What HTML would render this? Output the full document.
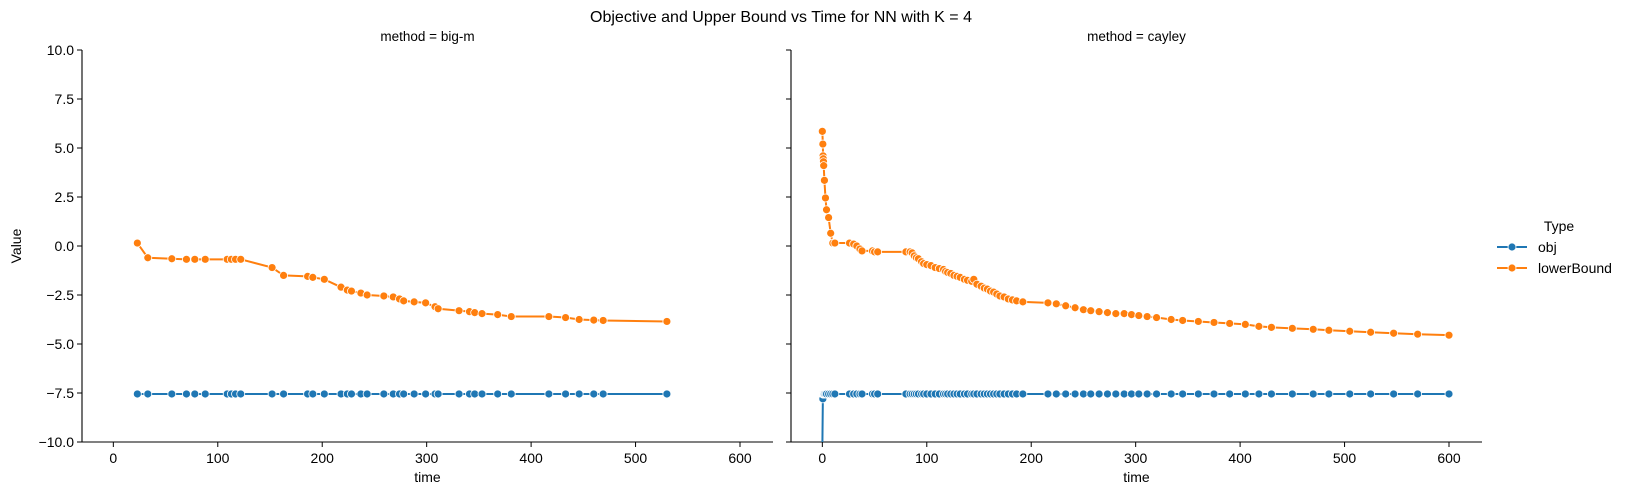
<!DOCTYPE html>
<html><head><meta charset="utf-8"><style>
html,body{margin:0;padding:0;background:#fff;overflow:hidden;width:1632px;height:495px;}
svg{display:block;}
svg text{font-family:"Liberation Sans","DejaVu Sans",sans-serif;fill:#000;}
</style></head><body>
<svg id="chart" width="1632" height="495" xmlns="http://www.w3.org/2000/svg">
<text x="781" y="22" font-size="16" text-anchor="middle">Objective and Upper Bound vs Time for NN with K = 4</text>
<g id="legend">
<text x="1559" y="231" font-size="14" text-anchor="middle">Type</text>
<g><line x1="1497" y1="247" x2="1527" y2="247" stroke="#1f77b4" stroke-width="2"/><circle cx="1512" cy="247" r="4" fill="#1f77b4" stroke="#fff" stroke-width="0.8"/><text x="1538" y="252" font-size="14">obj</text></g>
<g><line x1="1497" y1="268" x2="1527" y2="268" stroke="#ff7f0e" stroke-width="2"/><circle cx="1512" cy="268" r="4" fill="#ff7f0e" stroke="#fff" stroke-width="0.8"/><text x="1538" y="273" font-size="14">lowerBound</text></g>
</g>
</svg>
<script>
const yTicks=[10,7.5,5,2.5,0,-2.5,-5,-7.5,-10];
const yTickLabels=["10.0","7.5","5.0","2.5","0.0","\u22122.5","\u22125.0","\u22127.5","\u221210.0"];
const xTicks=[0,100,200,300,400,500,600];
const bigmTime=[23,33,56,70,78,88,109,113,117,122,152,163,186,191,202,218,224,228,237,243,259,268,274,278,288,299,308,311,331,341,346,353,368,381,417,433,446,460,469,530];
const bigmLB=[0.15,-0.6,-0.65,-0.68,-0.68,-0.68,-0.68,-0.68,-0.68,-0.68,-1.1,-1.5,-1.55,-1.6,-1.7,-2.1,-2.25,-2.3,-2.4,-2.5,-2.55,-2.6,-2.7,-2.8,-2.85,-2.9,-3.1,-3.2,-3.3,-3.35,-3.4,-3.45,-3.5,-3.6,-3.6,-3.65,-3.75,-3.78,-3.8,-3.85];
const bigmObj=[-7.55,-7.55,-7.55,-7.55,-7.55,-7.55,-7.55,-7.55,-7.55,-7.55,-7.55,-7.55,-7.55,-7.55,-7.55,-7.55,-7.55,-7.55,-7.55,-7.55,-7.55,-7.55,-7.55,-7.55,-7.55,-7.55,-7.55,-7.55,-7.55,-7.55,-7.55,-7.55,-7.55,-7.55,-7.55,-7.55,-7.55,-7.55,-7.55,-7.55];
const cayTime=[0,0.5,0.7,0.9,1.1,1.3,2,3,4,6,8,10,12,26,30,33,36,38,48,50,53,80,84,86,88,90,92,95,97,100,104,108,112,116,118,120,123,126,129,132,136,139,143,145,148,152,155,158,161,164,167,170,174,178,182,186,192,216,224,233,242,250,257,265,273,281,289,296,303,311,320,334,345,360,375,390,405,418,430,450,470,485,505,525,547,570,600];
const cayLB=[5.85,5.2,4.6,4.45,4.3,4.1,3.35,2.45,1.85,1.45,0.65,0.15,0.15,0.15,0.1,0.0,-0.15,-0.25,-0.25,-0.3,-0.3,-0.3,-0.3,-0.35,-0.5,-0.6,-0.65,-0.8,-0.9,-0.95,-1.0,-1.1,-1.15,-1.2,-1.3,-1.35,-1.4,-1.5,-1.55,-1.6,-1.7,-1.75,-1.8,-1.7,-1.95,-2.05,-2.15,-2.2,-2.3,-2.35,-2.45,-2.55,-2.6,-2.7,-2.75,-2.8,-2.85,-2.9,-2.95,-3.05,-3.15,-3.25,-3.3,-3.35,-3.4,-3.45,-3.45,-3.5,-3.55,-3.6,-3.65,-3.75,-3.8,-3.85,-3.9,-3.95,-4.0,-4.1,-4.15,-4.2,-4.25,-4.3,-4.35,-4.4,-4.45,-4.5,-4.55];
const cayObj=[-10.4,-7.8,-7.55,-7.55,-7.55,-7.55,-7.55,-7.55,-7.55,-7.55,-7.55,-7.55,-7.55,-7.55,-7.55,-7.55,-7.55,-7.55,-7.55,-7.55,-7.55,-7.55,-7.55,-7.55,-7.55,-7.55,-7.55,-7.55,-7.55,-7.55,-7.55,-7.55,-7.55,-7.55,-7.55,-7.55,-7.55,-7.55,-7.55,-7.55,-7.55,-7.55,-7.55,-7.55,-7.55,-7.55,-7.55,-7.55,-7.55,-7.55,-7.55,-7.55,-7.55,-7.55,-7.55,-7.55,-7.55,-7.55,-7.55,-7.55,-7.55,-7.55,-7.55,-7.55,-7.55,-7.55,-7.55,-7.55,-7.55,-7.55,-7.55,-7.55,-7.55,-7.55,-7.55,-7.55,-7.55,-7.55,-7.55,-7.55,-7.55,-7.55,-7.55,-7.55,-7.55,-7.55,-7.55];

const NS='http://www.w3.org/2000/svg';
const svg=document.getElementById('chart');
const TOP=50,BOT=442,XMIN=-30,XMAX=631.6,W=691;
function mk(tag,attrs,parent){const e=document.createElementNS(NS,tag);for(const k in attrs)e.setAttribute(k,attrs[k]);(parent||svg).appendChild(e);return e;}
function yScale(v){return TOP+(10-v)/20*(BOT-TOP);}

function panel(idx,left,title,showY,series){
  const xScale=t=>left+(t-XMIN)/(XMAX-XMIN)*W;
  const g=mk('g',{});
  
  
  const cp=mk('clipPath',{id:'clip'+idx},g);
  mk('rect',{x:left,y:TOP,width:W,height:BOT-TOP},cp);
  const t=mk('text',{x:left+W/2,y:41,'font-size':13.5,'text-anchor':'middle'},g);
  t.textContent=title;
  
  
  const sp=mk('path',{d:`M${left},${TOP}V${BOT}H${left+W}`,fill:'none',stroke:'#000','stroke-width':1.1},g);
  
  
  yTicks.forEach((v,i)=>{
    const y=yScale(v);
    mk('line',{x1:left-5,x2:left,y1:y,y2:y,stroke:'#000','stroke-width':1},g);
    if(showY){const tx=mk('text',{x:left-8,y:y+5,'font-size':14,'text-anchor':'end'},g);tx.textContent=yTickLabels[i];
      
      }
  });
  xTicks.forEach(v=>{
    const x=xScale(v);
    mk('line',{x1:x,x2:x,y1:BOT,y2:BOT+5,stroke:'#000','stroke-width':1},g);
    const tx=mk('text',{x:x,y:BOT+21,'font-size':14,'text-anchor':'middle'},g);tx.textContent=v;
    
    
  });
  const xl=mk('text',{x:left+W/2,y:482,'font-size':14,'text-anchor':'middle'},g);xl.textContent='time';
  
  
  if(showY){const yl=mk('text',{x:0,y:0,'font-size':14,'text-anchor':'middle',transform:`translate(21,${(TOP+BOT)/2}) rotate(-90)`},g);yl.textContent='Value';
    
    }
  const dg=mk('g',{'clip-path':`url(#clip${idx})`},g);
  series.forEach(s=>{
    const sg=mk('g',{},dg);
    
    
    const d=s.t.map((tt,i)=>(i?'L':'M')+xScale(tt).toFixed(2)+','+yScale(s.v[i]).toFixed(2)).join('');
    mk('path',{d:d,fill:'none',stroke:s.c,'stroke-width':2},sg);
    s.t.forEach((tt,i)=>{
      const c=mk('circle',{cx:xScale(tt),cy:yScale(s.v[i]),r:4,fill:s.c,stroke:'#fff','stroke-width':0.8},sg);
      
      
    });
  });
}
panel(0,82,'method = big-m',true,[{name:'obj',t:bigmTime,v:bigmObj,c:'#1f77b4'},{name:'lowerbound',t:bigmTime,v:bigmLB,c:'#ff7f0e'}]);
panel(1,791,'method = cayley',false,[{name:'obj',t:cayTime,v:cayObj,c:'#1f77b4'},{name:'lowerbound',t:cayTime,v:cayLB,c:'#ff7f0e'}]);
</script>
</body></html>
